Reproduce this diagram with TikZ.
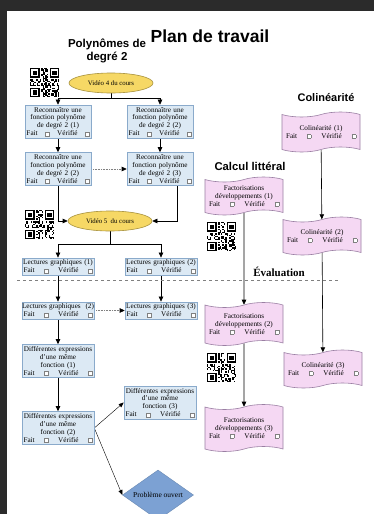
\documentclass[tikz,border=0pt]{standalone}
\usepackage{fontspec}
\setmainfont{Liberation Serif}
\setsansfont{Liberation Sans}
\usetikzlibrary{shapes.geometric,shapes.symbols,arrows.meta}
\pgfdeclarelayer{fond}
\pgfdeclarelayer{bg}
\pgfsetlayers{fond,bg,main}

\definecolor{fondsombre}{HTML}{2B2B2B}
\definecolor{bleufond}{HTML}{DCE9F4}
\definecolor{bleubord}{HTML}{8AAACB}
\definecolor{jaunefond}{HTML}{F6D865}
\definecolor{jaunebord}{HTML}{A8923E}
\definecolor{rosefond}{HTML}{F5D8F3}
\definecolor{rosebord}{HTML}{9A7FA3}
\definecolor{losange}{HTML}{7CA1D3}

\newcommand{\casevide}{{\setlength\fboxsep{0pt}\setlength\fboxrule{0.3pt}\fcolorbox{gray}{white}{\rule{0pt}{3.6pt}\rule{3.6pt}{0pt}}}}
\newcommand{\suivi}{Fait\hfill\casevide\hfill Vérifié\hfill\casevide}
\newcommand{\ligne}[1]{\makebox[\linewidth][c]{#1}}

\tikzset{
  tache/.style={rectangle, draw=bleubord, fill=bleufond, line width=0.6pt, align=center,
    text width=#1, inner xsep=1.5pt, inner ysep=2pt, font=\fontsize{7.2}{7.9}\selectfont},
  tache/.default=63pt,
  video/.style={ellipse, draw=jaunebord, fill=jaunefond, line width=0.6pt, minimum width=84pt,
    minimum height=20pt, inner sep=0pt, font=\fontsize{6.8}{7}\selectfont},
  bande/.style={tape, draw=rosebord, fill=rosefond, line width=0.6pt, align=center, text width=70pt,
    inner xsep=4pt, minimum height=#1, font=\fontsize{7.2}{7.9}\selectfont},
  titre/.style={font=\sffamily\bfseries\fontsize{#1}{#1}\selectfont, align=center},
  fleche/.style={-{Triangle[length=5pt,width=4.5pt,color=black]}, line width=0.6pt},
  pointilles/.style={fleche, densely dotted, draw=gray},
  fine/.style={-{Triangle[length=5pt,width=4pt]}, line width=0.4pt},
  qrcode/.pic={
    \foreach \i in {0,...,20}{
      \foreach \j in {0,...,20}{
        \pgfmathtruncatemacro\plein{mod(\i*\i*\j+3*\j*\j+7*\i+#1*\j+\i*\j,11)<5}
        \ifnum\plein=1 \fill ({\i*1.4pt},{-\j*1.4pt}) rectangle ++(1.4pt,-1.4pt);\fi
      }}
    \foreach \cx/\cy in {0/0,14/0,0/14}{
      \fill[white] ({\cx*1.4pt-1.4pt},{-\cy*1.4pt+1.4pt}) rectangle ++(12.6pt,-12.6pt);
      \fill ({\cx*1.4pt},{-\cy*1.4pt}) rectangle ++(9.8pt,-9.8pt);
      \fill[white] ({\cx*1.4pt+1.4pt},{-\cy*1.4pt-1.4pt}) rectangle ++(7pt,-7pt);
      \fill ({\cx*1.4pt+2.8pt},{-\cy*1.4pt-2.8pt}) rectangle ++(4.2pt,-4.2pt);
    }
  }
}

\begin{document}
\begin{tikzpicture}
        \useasboundingbox (0pt,0pt) rectangle (374pt,-514pt);
        \begin{pgfonlayer}{fond}
                \fill[fondsombre] (0pt,0pt) rectangle (374pt,-514pt);
                \fill[white] (6.5pt,-10.5pt) rectangle (374pt,-514pt);
        \end{pgfonlayer}

        % titres
        \node (titre) [titre=17.5pt] at (210pt,-36pt) {Plan de travail};
        \node (poly) [titre=11.5pt] at (107pt,-51pt) {Polynômes de\\[1.5pt]degré 2};
        \node (coli) [titre=11pt] at (326pt,-98pt) {Colinéarité};
        \node (calc) [titre=11.3pt] at (250pt,-166pt) {Calcul littéral};
        \node (eval) [font=\bfseries\fontsize{11}{11}\selectfont] at (279pt,-272pt) {Évaluation};
        \draw[gray, dashed, line width=0.5pt] (17pt,-280pt) -- (339pt,-280pt);

        % codes QR
        \pic at (30pt,-68pt) {qrcode=1};
        \pic at (25pt,-210pt) {qrcode=2};
        \pic at (207pt,-222pt) {qrcode=3};
        \pic at (207pt,-353pt) {qrcode=4};

        % polynomes
        \node (vid4) [video] at (111pt,-83pt) {Vidéo 4 du cours};
        \node (rec1) [tache] at (58pt,-121.5pt) {Reconnaître une\\fonction polynôme\\de degré 2 (1)\\\suivi};
        \node (rec2) [tache] at (160pt,-121.5pt) {Reconnaître une\\fonction polynôme\\de degré 2 (2)\\\suivi};
        \node (rec3) [tache] at (58pt,-169pt) {Reconnaître une\\fonction polynôme\\de degré 2 (2)\\\suivi};
        \node (rec4) [tache] at (160pt,-169pt) {Reconnaître une\\fonction polynôme\\de degré 2 (3)\\\suivi};
        \node (vid5) [video] at (110pt,-221pt) {Vidéo 5\ \ du cours};
        \node (lec1) [tache=69pt] at (58pt,-266.5pt) {\ligne{Lectures graphiques (1)}\\\suivi};
        \node (lec2) [tache=69pt] at (161pt,-266.5pt) {\ligne{Lectures graphiques (2)}\\\suivi};
        \node (lec3) [tache=69pt] at (58pt,-310.5pt) {\ligne{Lectures graphiques\ \ (2)}\\\suivi};
        \node (lec4) [tache=69pt] at (161pt,-310.5pt) {\ligne{Lectures graphiques (3)}\\\suivi};
        \node (dif1) [tache=69pt] at (58pt,-361pt) {\ligne{Différentes expressions}\\d'une même\\fonction (1)\\\suivi};
        \node (dif2) [tache=69pt] at (58pt,-428pt) {\ligne{Différentes expressions}\\d'une même\\fonction (2)\\\suivi};
        \node (dif3) [tache=69pt] at (160pt,-402.5pt) {\ligne{Différentes expressions}\\d'une même\\fonction (3)\\\suivi};
        \node (pb) [diamond, fill=losange, draw=losange!85!black, aspect=1.42, minimum width=71pt,
                minimum height=50pt, inner sep=0pt, font=\fontsize{7.5}{8}\selectfont] at (158pt,-495pt) {Problème ouvert};

        % colinearite et calcul litteral
        \node (col1) [bande=40pt] at (321pt,-132pt) {Colinéarité (1)\\\suivi};
        \node (col2) [bande=38pt] at (322pt,-236pt) {Colinéarité (2)\\\suivi};
        \node (col3) [bande=38pt] at (323pt,-369pt) {Colinéarité (3)\\\suivi};
        \node (fac1) [bande=38pt] at (244pt,-196pt) {Factorisations\\développements (1)\\\suivi};
        \node (fac2) [bande=43pt] at (244pt,-324pt) {Factorisations\\développements (2)\\\suivi};
        \node (fac3) [bande=47pt] at (244pt,-428pt) {Factorisations\\développements (3)\\\suivi};

        \begin{pgfonlayer}{bg}
                \draw [fleche] (vid4.south) -- ++(0pt,-5pt) -| (rec1.north);
                \draw [fleche] (vid4.south) -- ++(0pt,-5pt) -| (rec2.north);
                \draw (rec1) edge [fleche] (rec3);
                \draw (rec2) edge [fleche] (rec4);
                \draw (rec3) edge [pointilles] (rec4);
                \draw [fleche] (rec3.south) |- (vid5.west);
                \draw [fleche] ([xshift=17pt]rec4.south) |- (vid5.east);
                \draw [fleche] (vid5.south) -- ++(0pt,-12.5pt) -| (lec1.north);
                \draw [fleche] (vid5.south) -- ++(0pt,-12.5pt) -| (lec2.north);
                \draw (lec1) edge [fleche] (lec3);
                \draw (lec2) edge [fleche] (lec4);
                \draw (lec3) edge [pointilles] (lec4);
                \draw (lec3) edge [fleche] (dif1);
                \draw (dif1) edge [fleche] (dif2);
                \draw (dif2.east) edge [fine] (dif3.west);
                \draw (dif2.east) edge [fine] (pb.west);
                \draw (col1) edge [fleche] (col2);
                \draw (col2) edge [fleche] (col3);
                \draw (fac1) edge [fleche] (fac2);
                \draw (fac2) edge [fleche] (fac3);
        \end{pgfonlayer}
\end{tikzpicture}
\end{document}
